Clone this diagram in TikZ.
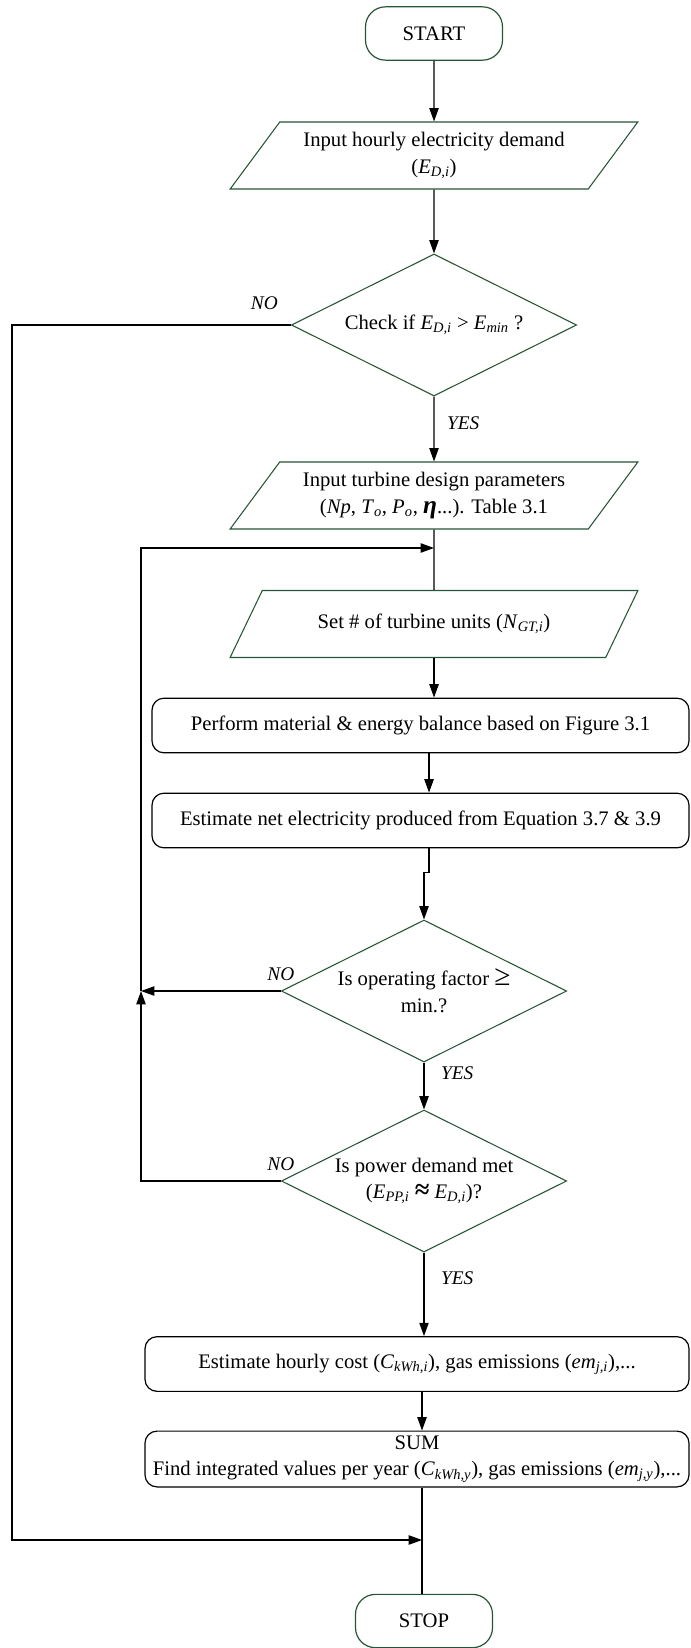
\documentclass[tikz,border=0pt]{standalone}
\usepackage{fontspec}
\setmainfont{Liberation Serif}
\usetikzlibrary{positioning,calc,arrows.meta,shapes.geometric}
\definecolor{boxgreen}{RGB}{40,85,55}
\newcommand{\vsub}[2]{\textit{#1}\textsubscript{\textit{#2}}}
\newcommand{\boxfont}{\fontsize{15.5}{20}\selectfont}

\begin{document}
\begin{tikzpicture}[x=0.75pt,y=-0.75pt,
  term/.style={draw=boxgreen,line width=0.9pt,rounded corners=15pt,minimum width=102.75pt,
               minimum height=40pt,font=\boxfont},
  io/.style={draw=boxgreen,line width=0.8pt,trapezium,trapezium left angle=52.7,
             trapezium right angle=127.3,trapezium stretches=true,minimum width=306pt,
             minimum height=50.25pt,align=center,inner xsep=0pt,font=\boxfont},
  dec/.style={draw=boxgreen,line width=0.8pt,diamond,aspect=2,minimum width=214pt,
              minimum height=106.5pt,align=center,inner sep=0pt,font=\boxfont},
  proc/.style={draw,line width=0.9pt,rounded corners=9pt,minimum height=41pt,
               align=center,font=\boxfont},
  arr/.style={-{Triangle[length=10pt,width=7pt]},line width=0.9pt},
  lnk/.style={line width=0.9pt},
  lbl/.style={font=\fontsize{14.5}{16}\selectfont\itshape}]
  \useasboundingbox (0,0) rectangle (690,1648);
  \node[term] (start) at (434,33.5) {START};
  \node[io] (inp1) at (434,155.5) {Input hourly electricity demand\\(\vsub{E}{D,i})};
  \node[dec] (chk1) at (434,325) {Check if \vsub{E}{D,i} > \vsub{E}{min} ?};
  \node[io] (inp2) at (434,495.5) {Input turbine design parameters\\
    (\textit{Np}, \vsub{T}{o}, \vsub{P}{o}, {\bfseries\itshape\fontsize{19}{20}\selectfont η}...). Table 3.1};
  \node[io] (inp3) at (434,624) {Set \# of turbine units (\vsub{N}{GT,i})};
  \node[proc,minimum width=402.75pt] (bal) at (420.5,725.5) {Perform material \& energy balance based on Figure 3.1};
  \node[proc,minimum width=402.75pt] (net) at (420.5,820.5) {Estimate net electricity produced from Equation 3.7 \& 3.9};
  \node[dec] (chk2) at (424,991) {Is operating factor {\fontsize{22}{20}\selectfont ≥}\\min.?};
  \node[dec] (chk3) at (424,1181) {Is power demand met\\
    (\vsub{E}{PP,i} {\bfseries\fontsize{20}{20}\selectfont ≈} \vsub{E}{D,i})?};
  \node[proc,minimum width=408pt] (cost) at (417,1364) {Estimate hourly cost (\vsub{C}{kWh,i}), gas emissions (\vsub{em}{j,i}),...};
  \node[proc,minimum width=408pt] (sum) at (417,1459) {SUM\\Find integrated values per year (\vsub{C}{kWh,y}), gas emissions (\vsub{em}{j,y}),...};
  \node[term] (stop) at (424,1621) {STOP};
  \coordinate (j1) at (434,548);
  \coordinate (j3) at (141,991);
  \coordinate (j2) at (422,1540);
  \coordinate (edge) at (12,325);
  % main column
  \draw[arr] (start) -- (inp1);
  \draw[arr] (inp1) -- (chk1);
  \draw[arr] (chk1) -- node[lbl,right=6pt,pos=0.41]{YES} (inp2);
  \draw[lnk] (inp2) -- (inp3);
  \draw[arr] (inp3.south) -- (inp3.south |- bal.north);
  \draw[arr] ([xshift=6.4pt]bal.south) -- ([xshift=6.4pt]net.north);
  \draw[arr] ([xshift=6.4pt]net.south) -- ++(0,24) -| (chk2.north);
  \draw[arr] (chk2) -- node[lbl,right=9pt,pos=0.23]{YES} (chk3);
  \draw[arr] (chk3.south) -- node[lbl,right=9pt,pos=0.31]{YES} (chk3.south |- cost.north);
  \draw[arr] (cost.south -| j2) -- (sum.north -| j2);
  \draw[lnk] (sum.south -| j2) -- (stop.north -| j2);
  % loops back
  \draw[arr] (chk1.west) -- node[lbl,pos=0,above left=8pt and 6pt]{NO} (edge) |- (j2);
  \draw[arr] (chk2.west) -- node[lbl,pos=0,above=4pt]{NO} (j3);
  \draw[arr] (chk3.west) -| node[lbl,pos=0,above=4pt]{NO} (j3);
  \draw[arr] (j3) |- (j1);
\end{tikzpicture}
\end{document}
